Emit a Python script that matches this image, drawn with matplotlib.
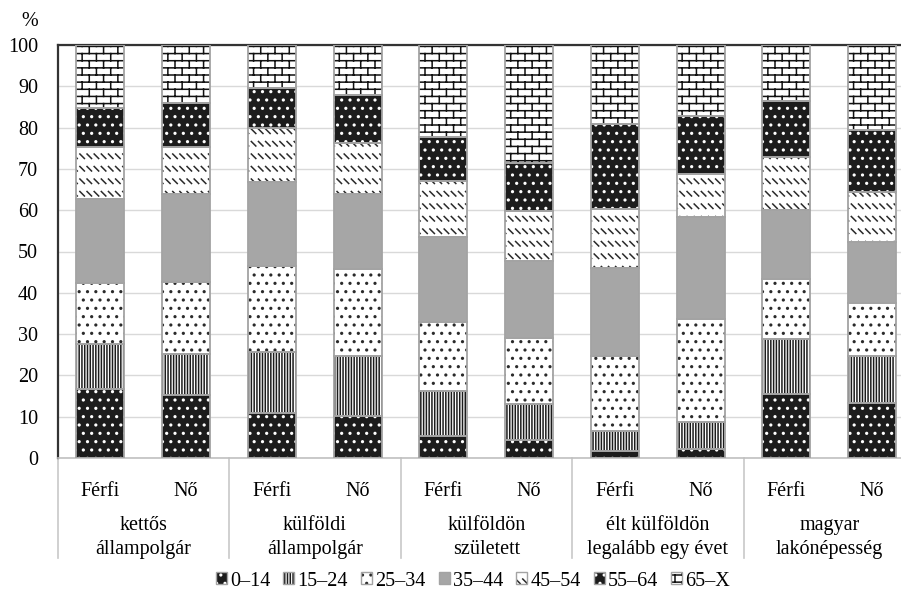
import warnings
import numpy as np
import matplotlib
matplotlib.use('Agg')
import matplotlib.pyplot as plt
import matplotlib.hatch as mhatch
from matplotlib.path import Path
from matplotlib.colors import to_rgba
from matplotlib.transforms import blended_transform_factory

warnings.filterwarnings('ignore')

# ---------------- data ----------------
groups = ['kettős\nállampolgár', 'külföldi\nállampolgár', 'külföldön\nszületett',
          'élt külföldön\nlegalább egy évet', 'magyar\nlakónépesség']
sexes = ['Férfi', 'Nő']
age_labels = ['0–14', '15–24', '25–34', '35–44', '45–54', '55–64', '65–X']

# shares (%) per bar, order: group1 Férfi, group1 Nő, group2 Férfi, ...
age_0_14 = [16.6, 15.3, 10.8, 10.2, 5.4, 4.4, 1.8, 2.1, 15.4, 13.2]
age_15_24 = [10.9, 9.8, 14.9, 14.5, 10.8, 8.7, 4.7, 6.5, 13.3, 11.5]
age_25_34 = [14.8, 17.6, 20.8, 21.0, 16.7, 15.9, 18.2, 25.0, 14.6, 12.8]
age_35_44 = [20.3, 21.2, 20.4, 18.2, 20.5, 18.8, 21.2, 24.8, 16.7, 14.9]
age_45_54 = [12.8, 11.3, 12.9, 12.3, 13.7, 12.1, 14.3, 10.3, 12.8, 12.1]
age_55_64 = [9.3, 10.7, 9.9, 11.7, 10.7, 11.6, 20.7, 14.1, 13.7, 14.9]
age_65_x = [15.3, 14.1, 10.3, 12.1, 22.2, 28.5, 19.1, 17.2, 13.5, 20.6]

y_ticks = [0, 10, 20, 30, 40, 50, 60, 70, 80, 90, 100]


# ---------------- custom hatch patterns ----------------
class SegmentHatch(mhatch.HatchPatternBase):
    char = None

    def __init__(self, hatch, density):
        self.segs = self.make_segments() if (hatch and self.char in hatch) else []
        self.num_vertices = 2 * len(self.segs)

    def make_segments(self):
        return []

    def set_vertices_and_codes(self, vertices, codes):
        for i, (p, q) in enumerate(self.segs):
            vertices[2 * i] = p
            vertices[2 * i + 1] = q
            codes[2 * i] = Path.MOVETO
            codes[2 * i + 1] = Path.LINETO


class BrickHatch(SegmentHatch):
    char = 'b'

    def make_segments(self):
        R, C = 14, 7
        segs = []
        for r in range(R):
            y = (r + 0.5) / R
            segs.append(((0.0, y), (1.0, y)))
            shift = 0.25 if r % 2 == 0 else 0.75
            y2 = y + 1.0 / R
            for c in range(C):
                x = (c + shift) / C
                if y2 <= 1.0:
                    segs.append(((x, y), (x, y2)))
                else:
                    segs.append(((x, y), (x, 1.0)))
                    segs.append(((x, 0.0), (x, y2 - 1.0)))
        return segs


class DashDiagHatch(SegmentHatch):
    char = 'd'

    def make_segments(self):
        R, C, L = 8, 14, 0.045
        segs = []
        for r in range(R):
            y = (r + 0.5) / R
            for c in range(C):
                x = (c + 0.5) / C
                segs.append(((x - L / 2, y + L / 2), (x + L / 2, y - L / 2)))
        return segs


mhatch._hatch_types.append(BrickHatch)
mhatch._hatch_types.append(DashDiagHatch)

# ---------------- style ----------------
plt.rcParams['font.family'] = ['Liberation Serif', 'DejaVu Serif']
plt.rcParams['hatch.linewidth'] = 1.1
FS = 14.5

styles = [  # facecolor, hatch, hatch colour
    ('#1c1c1c', '..', 'white'),
    ('white', '||||||', '#1c1c1c'),
    ('white', '..', '#2a2a2a'),
    ('#a6a6a6', None, '#a6a6a6'),
    ('white', 'd', '#2a2a2a'),
    ('#1c1c1c', '..', 'white'),
    ('white', 'b', '#111111'),
]
edge_gray = '#a3a3a3'

fig = plt.figure(figsize=(9.01, 6.03), dpi=100)
ax = fig.add_axes([57.5 / 901, 145 / 603, 857.5 / 901, 413 / 603])

series = [age_0_14, age_15_24, age_25_34, age_35_44, age_45_54, age_55_64, age_65_x]
n_bars = len(age_0_14)
x = np.arange(n_bars)
width = 0.56
bottom = np.zeros(n_bars)
handles = []
for vals, lab, (fc, hatch, hc) in zip(series, age_labels, styles):
    vals = np.asarray(vals)
    b = ax.bar(x, vals, width, bottom=bottom, color=fc, hatch=hatch,
               edgecolor=hc, linewidth=0, label=lab, zorder=2)
    ax.bar(x, vals, width, bottom=bottom, fill=False, edgecolor=edge_gray,
           linewidth=1.3, zorder=3)
    handles.append(b)
    bottom = bottom + vals

ax.set_xlim(-0.5, n_bars - 0.5)
ax.set_ylim(0, 100)
ax.set_yticks(y_ticks)
ax.set_yticklabels([str(v) for v in y_ticks], fontsize=FS)
ax.yaxis.grid(True, color='#d9d9d9', linewidth=1.0)
ax.set_axisbelow(True)
ax.tick_params(axis='y', length=0, pad=14)

ax.set_xticks(x)
ax.set_xticklabels([sexes[i % 2] for i in range(n_bars)], fontsize=FS)
ax.tick_params(axis='x', length=0, pad=17)

for side in ['top', 'left']:
    ax.spines[side].set_color('#333333')
    ax.spines[side].set_linewidth(1.6)
ax.spines['bottom'].set_color('#c0c0c0')
ax.spines['bottom'].set_linewidth(1.2)
ax.spines['right'].set_visible(False)

trans = blended_transform_factory(ax.transData, ax.transAxes)
for g, name in enumerate(groups):
    xc = 2 * g + 0.5
    ax.text(xc, -0.192, name, transform=trans, ha='center', va='center',
            fontsize=FS, linespacing=1.33)
for g in range(len(groups) + 1):
    xs = 2 * g - 0.5
    ax.plot([xs, xs], [0, -0.242], transform=trans, color='#c8c8c8',
            linewidth=1.2, clip_on=False)

fig.text(30 / 901, 1 - 22 / 603, '%', ha='center', va='center', fontsize=FS)

leg = fig.legend(handles=handles, labels=age_labels, loc='center',
                 bbox_to_anchor=(0.525, 22 / 603), ncol=7, frameon=False,
                 fontsize=FS, handlelength=0.55, handleheight=0.55,
                 handletextpad=0.15, columnspacing=0.65)
for h, (fc, hatch, hc) in zip(leg.legend_handles, styles):
    h.set_edgecolor(edge_gray)
    h.set_linewidth(1.0)
    h._hatch_color = to_rgba(hc)

fig.savefig('out.png', dpi=100)
